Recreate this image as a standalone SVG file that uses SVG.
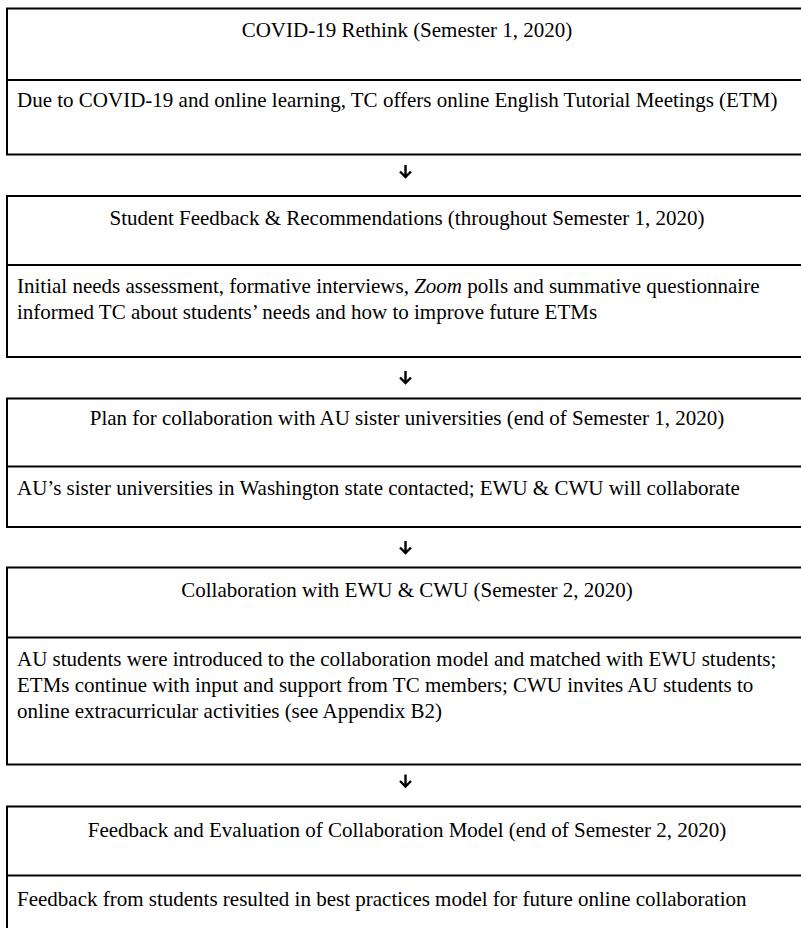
<svg xmlns="http://www.w3.org/2000/svg" width="801" height="928" viewBox="0 0 801 928">
<style>
.box{fill:#fff;stroke:#000;stroke-width:2}
.div{stroke:#000;stroke-width:2}
.t{font-family:"Liberation Serif","Times New Roman",serif;font-size:21px;fill:#000}
.c{text-anchor:middle}
.arr{fill:none;stroke:#000;stroke-width:2.4;stroke-linecap:butt;stroke-linejoin:miter}
</style>
<rect width="801" height="928" fill="#fff"/>
<defs>
<path id="dn" d="M0,-6 V6 M-5.5,0.5 L0,6 L5.5,0.5"/>
</defs>
<g id="connectors" class="arr">
<use href="#dn" x="405.5" y="171"/>
<use href="#dn" x="405.5" y="377"/>
<use href="#dn" x="405.5" y="547"/>
<use href="#dn" x="405.5" y="780.5"/>
</g>
<g id="node1">
<rect class="box" x="7" y="8.5" width="810" height="146"/>
<line class="div" x1="7" y1="80" x2="817" y2="80"/>
<text class="t c" x="407" y="37">COVID-19 Rethink (Semester 1, 2020)</text>
<text class="t" x="17" y="107">Due to COVID-19 and online learning, TC offers online English Tutorial Meetings (ETM)</text>
</g>
<g id="node2">
<rect class="box" x="7" y="196" width="810" height="161"/>
<line class="div" x1="7" y1="265" x2="817" y2="265"/>
<text class="t c" x="407" y="225">Student Feedback &amp; Recommendations (throughout Semester 1, 2020)</text>
<text class="t" x="17" y="293">Initial needs assessment, formative interviews, <tspan font-style="italic">Zoom</tspan> polls and summative questionnaire</text>
<text class="t" x="17" y="318.5">informed TC about students’ needs and how to improve future ETMs</text>
</g>
<g id="node3">
<rect class="box" x="7" y="398.5" width="810" height="128.5"/>
<line class="div" x1="7" y1="466.5" x2="817" y2="466.5"/>
<text class="t c" x="407" y="425">Plan for collaboration with AU sister universities (end of Semester 1, 2020)</text>
<text class="t" x="17" y="494.5">AU’s sister universities in Washington state contacted; EWU &amp; CWU will collaborate</text>
</g>
<g id="node4">
<rect class="box" x="7" y="567.5" width="810" height="197"/>
<line class="div" x1="7" y1="637.5" x2="817" y2="637.5"/>
<text class="t c" x="407" y="596.5">Collaboration with EWU &amp; CWU (Semester 2, 2020)</text>
<text class="t" x="17" y="665.5">AU students were introduced to the collaboration model and matched with EWU students;</text>
<text class="t" x="17" y="691.5">ETMs continue with input and support from TC members; CWU invites AU students to</text>
<text class="t" x="17" y="717.5">online extracurricular activities (see Appendix B2)</text>
</g>
<g id="node5">
<rect class="box" x="7" y="806.5" width="810" height="140"/>
<line class="div" x1="7" y1="875.5" x2="817" y2="875.5"/>
<text class="t c" x="407" y="836.5">Feedback and Evaluation of Collaboration Model (end of Semester 2, 2020)</text>
<text class="t" x="17" y="906">Feedback from students resulted in best practices model for future online collaboration</text>
</g>
</svg>
